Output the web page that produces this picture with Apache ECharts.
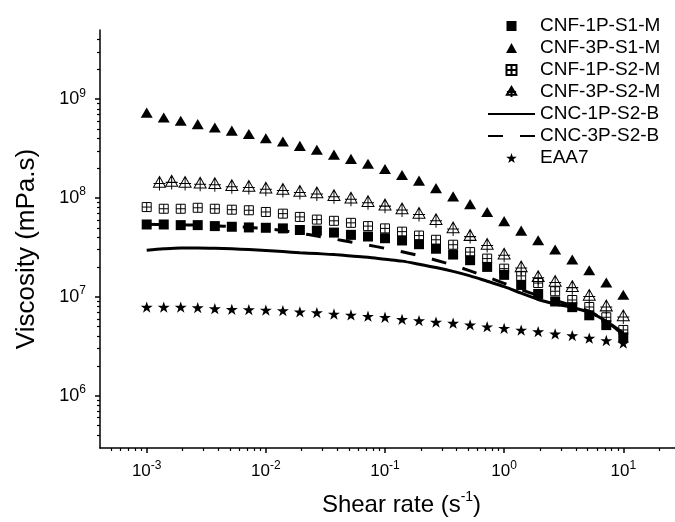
<!DOCTYPE html>
<html>
<head>
<meta charset="utf-8">
<script src="https://cdn.jsdelivr.net/npm/echarts@6/dist/echarts.min.js"></script>
<style>
html,body{margin:0;padding:0;background:#fff;}
#chart{width:675px;height:522px;}
</style>
</head>
<body>
<div id="chart"></div>
<script>
// ---- data ----
var shearRate = [0.001,0.00139,0.00193,0.00268,0.00373,0.00518,0.0072,0.01,0.0139,0.0193,0.0268,0.0373,0.0518,0.072,0.1,0.139,0.193,0.268,0.373,0.518,0.72,1,1.39,1.93,2.68,3.73,5.18,7.2,10];
var shearRate3PS2M = [0.00128,0.00162,0.0021,0.00281,0.00373,0.00518,0.0072,0.01,0.0139,0.0193,0.0268,0.0373,0.0518,0.072,0.1,0.139,0.193,0.268,0.373,0.518,0.72,1,1.39,1.93,2.68,3.73,5.18,7.2,10];
var cnf1pS1M = [5.40e7,5.40e7,5.32e7,5.32e7,5.20e7,5.12e7,5.04e7,5.00e7,4.93e7,4.75e7,4.68e7,4.47e7,4.24e7,4.08e7,3.92e7,3.72e7,3.41e7,3.07e7,2.68e7,2.35e7,2.01e7,1.67e7,1.32e7,1.07e7,8.98e6,7.87e6,6.51e6,5.18e6,3.89e6];
var cnf3pS1M = [7.31e8,6.52e8,6.04e8,5.59e8,5.18e8,4.81e8,4.45e8,4.03e8,3.73e8,3.37e8,3.08e8,2.75e8,2.49e8,2.22e8,1.97e8,1.71e8,1.50e8,1.26e8,1.04e8,8.67e7,7.22e7,5.84e7,4.68e7,3.74e7,3.01e7,2.39e7,1.86e7,1.40e7,1.05e7];
var cnf1pS2M = [8.10e7,7.79e7,7.79e7,7.97e7,7.79e7,7.62e7,7.52e7,7.23e7,6.95e7,6.44e7,6.05e7,5.88e7,5.61e7,5.20e7,4.93e7,4.57e7,4.17e7,3.78e7,3.37e7,2.84e7,2.44e7,1.93e7,1.63e7,1.38e7,1.14e7,9.3e6,7.9e6,6.22e6,4.63e6];
var cnf3pS2M = [1.40e8,1.44e8,1.40e8,1.38e8,1.36e8,1.30e8,1.28e8,1.23e8,1.19e8,1.14e8,1.10e8,1.03e8,9.73e7,8.98e7,8.28e7,7.56e7,6.82e7,5.88e7,4.86e7,4.07e7,3.31e7,2.64e7,1.96e7,1.56e7,1.40e7,1.24e7,1.01e7,7.88e6,6.27e6];
var cnc1pS2B = [2.96e7,3.06e7,3.12e7,3.12e7,3.10e7,3.06e7,3.01e7,2.94e7,2.87e7,2.80e7,2.74e7,2.68e7,2.59e7,2.52e7,2.40e7,2.30e7,2.14e7,1.98e7,1.81e7,1.63e7,1.44e7,1.27e7,1.09e7,9.40e6,8.48e6,7.83e6,6.98e6,5.68e6,4.12e6];
var cnc3pS2B = [5.42e7,5.40e7,5.36e7,5.32e7,5.24e7,5.14e7,5.04e7,4.90e7,4.68e7,4.42e7,4.12e7,3.85e7,3.59e7,3.35e7,3.10e7,2.86e7,2.61e7,2.35e7,2.09e7,1.83e7,1.59e7,1.37e7,1.18e7,1.03e7,9.18e6,8.18e6,7.14e6,5.68e6,4.32e6];
var eaa7 = [7.88e6,7.88e6,7.88e6,7.78e6,7.60e6,7.48e6,7.43e6,7.36e6,7.26e6,7.06e6,6.93e6,6.71e6,6.56e6,6.37e6,6.22e6,5.92e6,5.76e6,5.55e6,5.42e6,5.21e6,4.99e6,4.81e6,4.62e6,4.45e6,4.22e6,4.06e6,3.82e6,3.62e6,3.41e6];

var seriesNames = ['CNF-1P-S1-M','CNF-3P-S1-M','CNF-1P-S2-M','CNF-3P-S2-M','CNC-1P-S2-B','CNC-3P-S2-B','EAA7'];
var xMajorTicks = [0.001,0.01,0.1,1,10];
var xMinorTicks = [0.0005,0.0006,0.0007,0.0008,0.0009,0.002,0.003,0.004,0.005,0.006,0.007,0.008,0.009,0.02,0.03,0.04,0.05,0.06,0.07,0.08,0.09,0.2,0.3,0.4,0.5,0.6,0.7,0.8,0.9,2,3,4,5,6,7,8,9,20];
var yMajorTicks = [1e6,1e7,1e8,1e9];
var yMinorTicks = [4e5,5e5,6e5,7e5,8e5,9e5,2e6,3e6,4e6,5e6,6e6,7e6,8e6,9e6,2e7,3e7,4e7,5e7,6e7,7e7,8e7,9e7,2e8,3e8,4e8,5e8,6e8,7e8,8e8,9e8,2e9,3e9,4e9];
var xMin = Math.pow(10,-3.392), xMax = Math.pow(10,1.434);
var yMin = Math.pow(10,5.471), yMax = Math.pow(10,9.70);

function pairs(xs, ys){ return xs.map(function(x,i){return [x, ys[i]];}); }

var FONT = '"Liberation Sans", Arial, sans-serif';
function supRich(big, small){
  return {
    b:{fontSize:big, fontFamily:FONT, color:'#000', lineHeight:big+6},
    s:{fontSize:small, fontFamily:FONT, color:'#000', verticalAlign:'top', lineHeight:small+2}
  };
}
function powLabel(v){ var e = Math.round(Math.log10(v)); return '{b|10}{s|' + e + '}'; }

var starPath = 'path://M50,0 L61.8,35.1 L98.9,35.1 L68.9,56.8 L80.3,91.9 L50,70.2 L19.7,91.9 L31.1,56.8 L1.1,35.1 L38.2,35.1 Z';
var squarePath = 'path://M0,0H10V10H0Z';
var trianglePath = 'path://M6,0L12,11H0Z';
var openSqPath = 'path://M0,0H10V10H0Z M5,0V10 M0,5H10';
var openTriPath = 'path://M6,0L12,10H0Z M6,0V13 M0,6.5H12';

var baseX = {type:'log', logBase:10, min:xMin, max:xMax, gridIndex:0, position:'bottom'};
var baseY = {type:'log', logBase:10, min:yMin, max:yMax, gridIndex:0, position:'left'};

var option = {
  backgroundColor:'#fff',
  animation:false,
  textStyle:{fontFamily:FONT, color:'#000'},
  grid:{left:100, top:30, right:0, bottom:67},
  legend:{
    orient:'vertical', left:482, top:11, itemWidth:47, itemHeight:10, itemGap:2,
    textStyle:{fontSize:19, fontFamily:FONT, color:'#000', lineHeight:20},
    data: seriesNames
  },
  xAxis:[
    Object.assign({}, baseX, {
      name:'{n|Shear rate (s}{s|-1}{n|)}', nameLocation:'middle', nameGap:42,
      nameTextStyle:{padding:[0,0,0,28], rich:{n:{fontSize:24, fontFamily:FONT, color:'#000', lineHeight:30}, s:{fontSize:14, fontFamily:FONT, color:'#000', verticalAlign:'top', lineHeight:16}}},
      axisLine:{show:true, lineStyle:{color:'#000', width:1.5}},
      axisTick:{show:true, inside:false, length:5, lineStyle:{color:'#000', width:1.5}, customValues:xMajorTicks},
      axisLabel:{show:true, margin:12, formatter:powLabel, rich:supRich(17,12), customValues:xMajorTicks},
      splitLine:{show:false}, minorTick:{show:false}
    }),
    Object.assign({}, baseX, {
      axisLine:{show:false},
      axisTick:{show:true, inside:false, length:3, lineStyle:{color:'#000', width:1.2}, customValues:xMinorTicks},
      axisLabel:{show:false}, splitLine:{show:false}
    })
  ],
  yAxis:[
    Object.assign({}, baseY, {
      name:'Viscosity (mPa.s)', nameLocation:'middle', nameGap:60,
      nameTextStyle:{fontSize:26, fontFamily:FONT, color:'#000', padding:[0,20,0,0]},
      axisLine:{show:true, lineStyle:{color:'#000', width:1.5}},
      axisTick:{show:true, inside:false, length:5, lineStyle:{color:'#000', width:1.5}, customValues:yMajorTicks},
      axisLabel:{show:true, margin:14, formatter:powLabel, rich:supRich(18,12), customValues:yMajorTicks},
      splitLine:{show:false}, minorTick:{show:false}
    }),
    Object.assign({}, baseY, {
      axisLine:{show:false},
      axisTick:{show:true, inside:false, length:3, lineStyle:{color:'#000', width:1.2}, customValues:yMinorTicks},
      axisLabel:{show:false}, splitLine:{show:false}
    })
  ],
  series:[
    {name:seriesNames[4], type:'line', data:pairs(shearRate, cnc1pS2B), showSymbol:false, symbol:'none', smooth:0.3,
      lineStyle:{color:'#000', width:3, opacity:1}, itemStyle:{color:'#000', opacity:0}, z:2},
    {name:seriesNames[5], type:'line', data:pairs(shearRate, cnc3pS2B), showSymbol:false, symbol:'none', smooth:0.3,
      lineStyle:{color:'#000', width:3, opacity:1, type:[15,17]}, itemStyle:{color:'#000', opacity:0}, z:2},
    {name:seriesNames[0], type:'scatter', data:pairs(shearRate, cnf1pS1M), symbol:squarePath, symbolSize:10, symbolKeepAspect:true,
      itemStyle:{color:'#000', opacity:1}, z:3},
    {name:seriesNames[1], type:'scatter', data:pairs(shearRate, cnf3pS1M), symbol:trianglePath, symbolSize:[12,11], symbolKeepAspect:true,
      itemStyle:{color:'#000', opacity:1}, z:3},
    {name:seriesNames[2], type:'scatter', data:pairs(shearRate, cnf1pS2M), symbol:openSqPath, symbolSize:9, symbolKeepAspect:true,
      itemStyle:{color:'rgba(255,255,255,0)', borderColor:'#000', borderWidth:1, opacity:1}, z:4},
    {name:seriesNames[3], type:'scatter', data:pairs(shearRate3PS2M, cnf3pS2M), symbol:openTriPath, symbolSize:[13,14], symbolKeepAspect:true,
      itemStyle:{color:'rgba(255,255,255,0)', borderColor:'#000', borderWidth:1, opacity:1}, z:4},
    {name:seriesNames[6], type:'scatter', data:pairs(shearRate, eaa7), symbol:starPath, symbolSize:12, symbolKeepAspect:true,
      itemStyle:{color:'#000', opacity:1}, z:3}
  ]
};
var chart = echarts.init(document.getElementById('chart'), null, {renderer:'canvas'});
chart.setOption(option);
</script>
</body>
</html>
